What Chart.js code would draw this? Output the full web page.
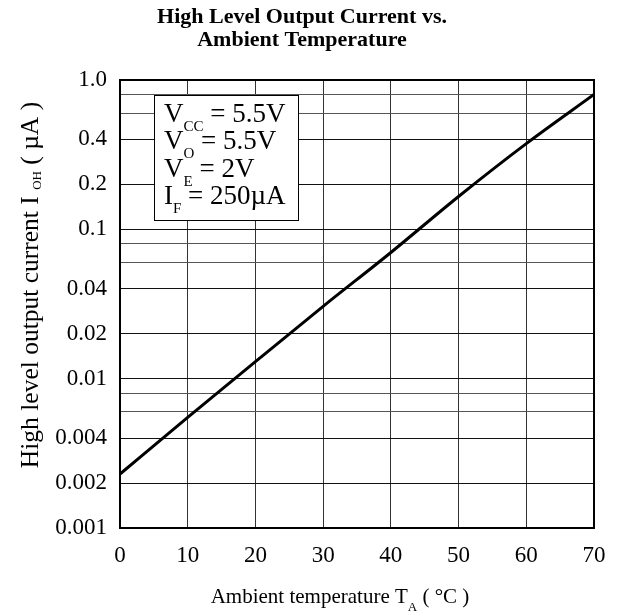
<!DOCTYPE html>
<html>
<head>
<meta charset="utf-8">
<script src="https://cdn.jsdelivr.net/npm/chart.js@4.4.1/dist/chart.umd.min.js"></script>
<style>
  html, body { margin: 0; padding: 0; background: #fff; }
  #wrap { width: 624px; height: 615px; position: relative; }
</style>
</head>
<body>
<div id="wrap"><canvas id="c"></canvas></div>
<script>
// ---- data ----
const titleLines = ['High Level Output Current vs.', 'Ambient Temperature'];
const temps = [0, 10, 20, 30, 40, 50, 60, 70];
const iohValues = [0.0023, 0.0055, 0.0130, 0.0305, 0.070, 0.166, 0.375, 0.80];
const xTicks = [0, 10, 20, 30, 40, 50, 60, 70];
const yTickValues = [0.001, 0.002, 0.004, 0.006, 0.008, 0.01, 0.02, 0.04, 0.06, 0.08, 0.1, 0.2, 0.4, 0.6, 0.8, 1.0];
const yTickLabels = ['0.001', '0.002', '0.004', '', '', '0.01', '0.02', '0.04', '', '', '0.1', '0.2', '0.4', '', '', '1.0'];
const xTitleParts = ['Ambient temperature T', 'A', ' ( \u00B0C )'];
const yTitleParts = ['High level output current I ', 'OH', ' ( \u00B5A )'];
const conditions = [
  ['V', 'CC', ' = 5.5V'],
  ['V', 'O', ' = 5.5V'],
  ['V', 'E', ' = 2V'],
  ['I', 'F', ' = 250\u00B5A']
];

const SERIF = '"Liberation Serif", "Times New Roman", serif';

function labelFor(v) {
  const i = yTickValues.findIndex(t => Math.abs(t - v) / t < 1e-6);
  return i >= 0 ? yTickLabels[i] : '';
}

function drawSubText(ctx, x, y, parts, mainSize, subSize, subDrop) {
  ctx.font = mainSize + 'px ' + SERIF;
  ctx.fillText(parts[0], x, y);
  let w = ctx.measureText(parts[0]).width;
  ctx.font = subSize + 'px ' + SERIF;
  ctx.fillText(parts[1], x + w, y + subDrop);
  w += ctx.measureText(parts[1]).width;
  ctx.font = mainSize + 'px ' + SERIF;
  ctx.fillText(parts[2], x + w, y);
}
function widthOf(ctx, parts, mainSize, subSize) {
  ctx.font = mainSize + 'px ' + SERIF;
  let w = ctx.measureText(parts[0]).width + ctx.measureText(parts[2]).width;
  ctx.font = subSize + 'px ' + SERIF;
  return w + ctx.measureText(parts[1]).width;
}

const decor = {
  id: 'decor',
  afterDraw(chart) {
    const ctx = chart.ctx;
    const a = chart.chartArea;
    ctx.save();
    ctx.fillStyle = '#000';
    ctx.textBaseline = 'alphabetic';
    ctx.textAlign = 'left';

    // frame
    ctx.strokeStyle = '#000';
    ctx.lineWidth = 2;
    ctx.strokeRect(a.left, a.top, a.right - a.left, a.bottom - a.top);

    // x-axis title
    const xw = widthOf(ctx, xTitleParts, 21, 13);
    drawSubText(ctx, 340 - xw / 2, 603, xTitleParts, 21, 13, 8);

    // y-axis title (rotated)
    ctx.save();
    ctx.translate(38, 285);
    ctx.rotate(-Math.PI / 2);
    const yw = widthOf(ctx, yTitleParts, 25.5, 13);
    drawSubText(ctx, -yw / 2, 0, yTitleParts, 25.5, 13, 3);
    ctx.restore();

    // conditions box
    const bx = 154, by = 95, bw = 144, bh = 125;
    ctx.fillStyle = '#fff';
    ctx.fillRect(bx, by, bw, bh);
    ctx.strokeStyle = '#000';
    ctx.lineWidth = 1;
    ctx.strokeRect(bx + 0.5, by + 0.5, bw, bh);
    ctx.fillStyle = '#000';
    conditions.forEach((parts, i) => {
      drawSubText(ctx, 164, 122 + i * 27.3, parts, 27, 15, 9);
    });
    ctx.restore();
  }
};

const ctx = document.getElementById('c').getContext('2d');
new Chart(ctx, {
  type: 'line',
  data: {
    datasets: [{
      data: temps.map((t, i) => ({ x: t, y: iohValues[i] })),
      borderColor: '#000',
      borderWidth: 3,
      pointRadius: 0,
      cubicInterpolationMode: 'monotone',
      fill: false
    }]
  },
  options: {
    responsive: true,
    maintainAspectRatio: false,
    animation: false,
    devicePixelRatio: 1,
    layout: { padding: { left: 10, right: 30, top: 0, bottom: 0 } },
    plugins: {
      legend: { display: false },
      tooltip: { enabled: false },
      title: {
        display: true,
        text: titleLines,
        color: '#000',
        font: { family: SERIF, size: 22, weight: 'bold', lineHeight: 1.05 },
        padding: { top: 6, bottom: 27.8 }
      }
    },
    scales: {
      x: {
        type: 'linear',
        min: 0, max: 70,
        afterBuildTicks: s => { s.ticks = xTicks.map(v => ({ value: v })); },
        afterFit: s => { s.height = 87; },
        grid: { color: '#333', lineWidth: 1, drawTicks: false },
        border: { display: false },
        ticks: {
          color: '#000',
          padding: 14,
          maxRotation: 0,
          font: { family: SERIF, size: 23 },
          callback: v => String(v)
        }
      },
      y: {
        type: 'logarithmic',
        min: 0.001, max: 1.0,
        afterBuildTicks: s => { s.ticks = yTickValues.map(v => ({ value: v })); },
        afterFit: s => { s.width = 110; },
        grid: {
          color: c => (c.tick && labelFor(c.tick.value) !== '') ? '#111' : '#555',
          lineWidth: 1,
          drawTicks: false
        },
        border: { display: false },
        ticks: {
          color: '#000',
          padding: 13,
          autoSkip: false,
          font: { family: SERIF, size: 23 },
          callback: v => labelFor(v)
        }
      }
    }
  },
  plugins: [decor]
});
</script>
</body>
</html>
